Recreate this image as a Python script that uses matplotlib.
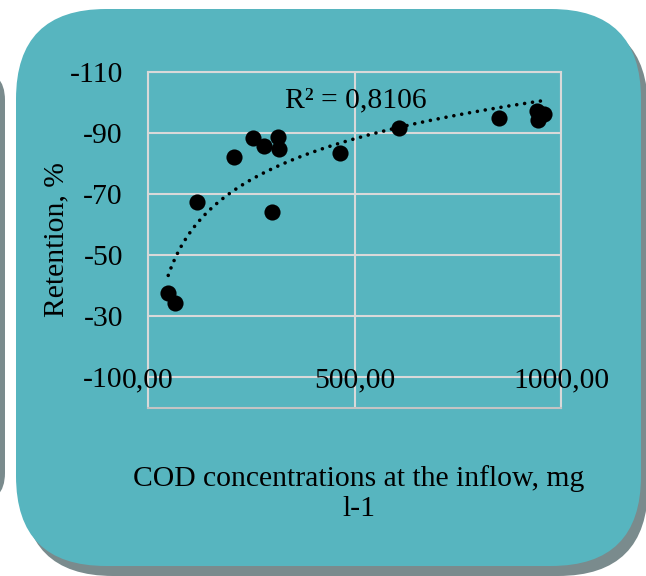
import matplotlib
matplotlib.use("Agg")
import matplotlib.pyplot as plt
import numpy as np
from matplotlib.patches import FancyBboxPatch

plt.rcParams["font.family"] = ["Liberation Serif", "DejaVu Serif"]

# COD concentration at the inflow (mg l-1) vs retention (%)
cod_inflow = [49, 65, 119, 209, 255, 281, 314, 318, 301, 465, 608, 850, 943, 959, 944]
retention = [-37.6, -34.3, -67.3, -82.3, -88.5, -85.9, -88.6, -84.7, -64.1,
             -83.6, -91.8, -95.0, -97.2, -96.3, -94.4]

x_ticks = [0, 500, 1000]
x_tick_labels = ["0,00", "500,00", "1000,00"]
y_ticks = [-110, -90, -70, -50, -30, -10]
y_tick_labels = ["-110", "-90", "-70", "-50", "-30", "-10"]
r2_label = "R² = 0,8106"

TEAL = "#57B5BF"
SHADOW = "#7A8B8D"
GRID = "#D9D9D9"
FS = 21.3

W, H = 646, 576
fig = plt.figure(figsize=(W / 100, H / 100), dpi=100)

# --- background panels (pixel coordinates) ---
bg = fig.add_axes([0, 0, 1, 1], zorder=0)
bg.set_xlim(0, W)
bg.set_ylim(H, 0)
bg.axis("off")
bg.add_patch(FancyBboxPatch((-200, 70), 205, 433, boxstyle="round,pad=0,rounding_size=30",
                            fc=SHADOW, ec="none"))
bg.add_patch(FancyBboxPatch((23, 19), 625, 557, boxstyle="round,pad=0,rounding_size=90",
                            fc=SHADOW, ec="none"))
bg.add_patch(FancyBboxPatch((16, 9), 625, 557, boxstyle="round,pad=0,rounding_size=90",
                            fc=TEAL, ec="none"))

# --- chart ---
ax = fig.add_axes([148 / W, 1 - 408 / H, 413 / W, 336 / H], zorder=1)
ax.set_facecolor("none")
ax.set_xlim(0, 1000)
ax.set_ylim(0, -110)

x = np.array(cod_inflow, dtype=float)
y = np.array(retention, dtype=float)
ax.scatter(x, y, s=135, color="black", linewidths=0, zorder=3)

# logarithmic trendline, as Excel draws it
a, b = np.polyfit(np.log(x), y, 1)
xs = np.linspace(x.min(), x.max(), 300)
ax.plot(xs, a * np.log(xs) + b, color="black", linewidth=2.6,
        linestyle=(0, (0.01, 2.2)), dash_capstyle="round", zorder=2)

ax.set_xticks(x_ticks)
ax.set_xticklabels([])
ax.set_yticks(y_ticks, y_tick_labels)
ax.tick_params(length=0)
ax.tick_params(axis="y", pad=18, labelsize=FS)
ax.grid(True, color=GRID, linewidth=1.5, zorder=1)
ax.set_axisbelow(True)
for side, sp in ax.spines.items():
    sp.set_color("#C4C4C4" if side == "bottom" else GRID)
    sp.set_linewidth(1.5)

# x tick labels sit on the -10 gridline in the original
for xv, lab in zip(x_ticks, x_tick_labels):
    ax.text(xv, -10, lab, ha="center", va="center_baseline", fontsize=FS, zorder=4)

ax.text(332, -101.6, r2_label, ha="left", va="center_baseline", fontsize=FS, zorder=4)

fig.text(56 / W, 1 - 240 / H, "Retention, %", rotation=90, ha="center", va="center",
         fontsize=FS)
fig.text(359 / W, 1 - 465 / H, "COD concentrations at the inflow, mg\nl-1",
         ha="center", va="top", fontsize=FS, linespacing=1.2, multialignment="center")

fig.savefig("out.png", dpi=100)
